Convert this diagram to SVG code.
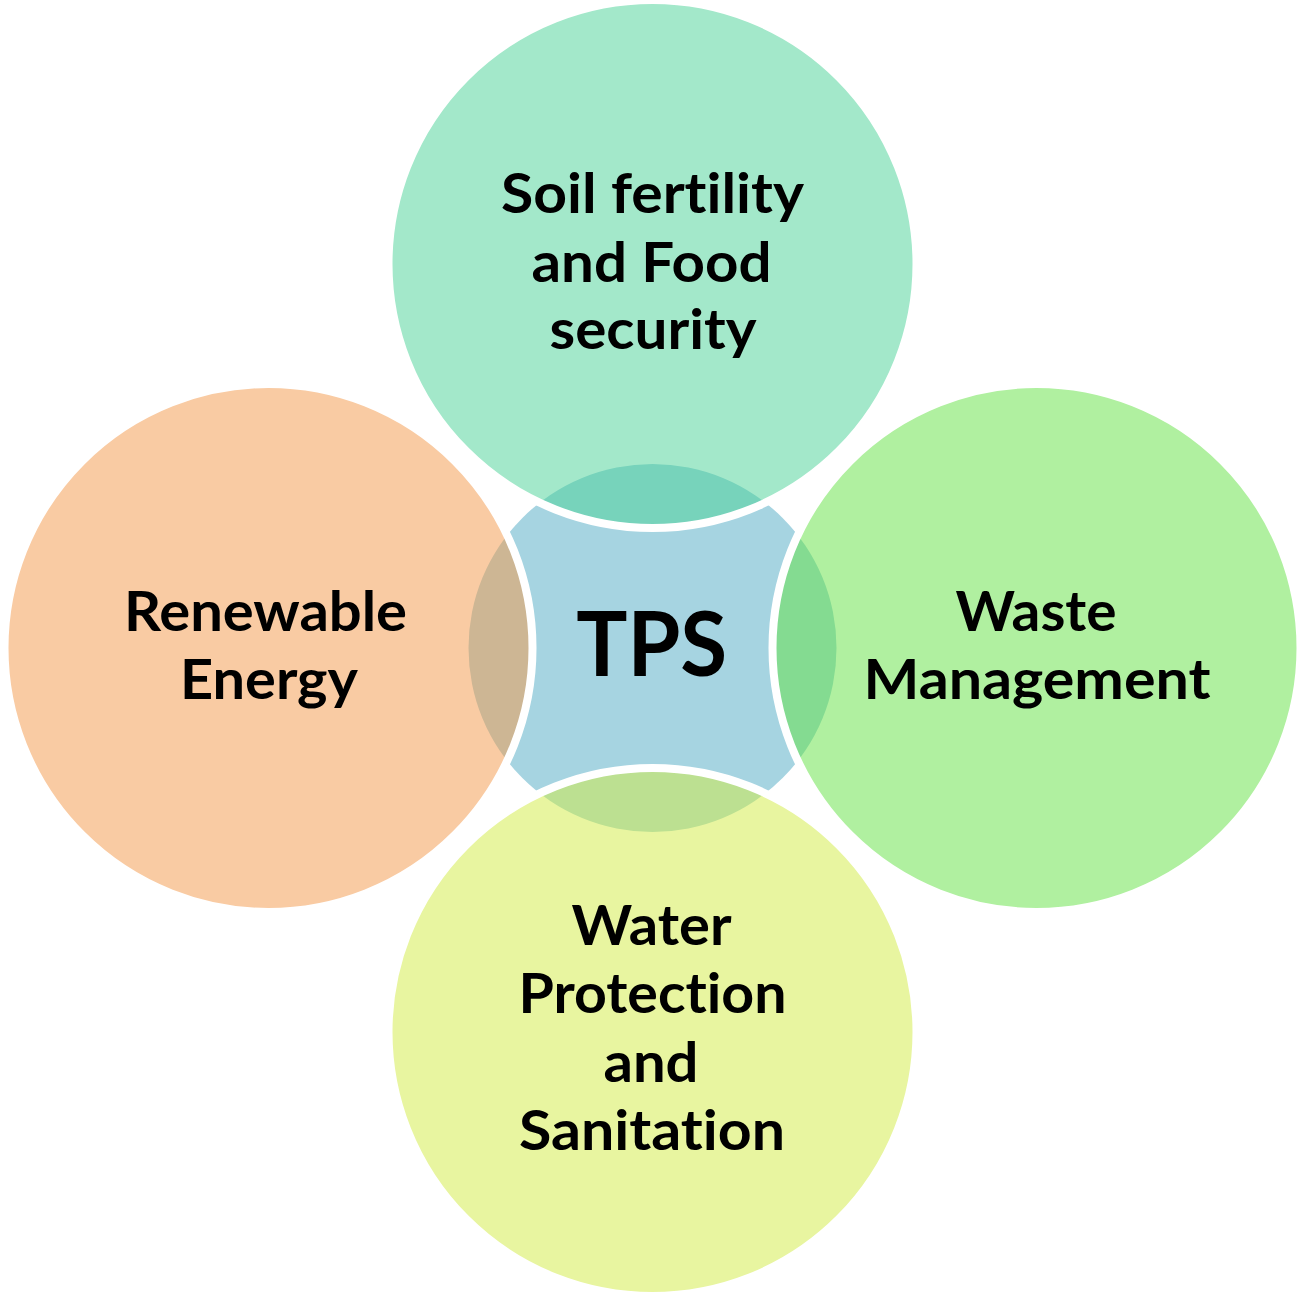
<svg xmlns="http://www.w3.org/2000/svg" width="1304" height="1315" viewBox="0 0 1304 1315">
<style>
.ring{stroke:#FFFFFF;stroke-width:8;fill-opacity:0.5}
.lbl,.hub{font-family:Lato,"Open Sans","Liberation Sans",sans-serif;font-weight:bold;fill:#000000;text-anchor:middle;font-variant-ligatures:none;font-feature-settings:"liga" 0,"clig" 0,"dlig" 0}
.lbl{font-size:56px}
.hub{font-size:89px}
</style>
<rect x="0" y="0" width="1304" height="1315" fill="#FFFFFF"/>
<g id="node-tps">
<circle cx="652.5" cy="648" r="184" fill="#A6D4E1"/>
</g>
<g id="node-soil">
<circle class="ring" cx="652.5" cy="264" r="264" fill="#47D195"/>
<text class="lbl" x="652.5" y="213" textLength="303" lengthAdjust="spacingAndGlyphs">Soil fertility</text>
<text class="lbl" x="651.5" y="281.5" textLength="240" lengthAdjust="spacingAndGlyphs">and Food</text>
<text class="lbl" x="653" y="348.5" textLength="207" lengthAdjust="spacingAndGlyphs">security</text>
</g>
<g id="node-renewable">
<circle class="ring" cx="268.5" cy="648" r="264" fill="#F39747"/>
<text class="lbl" x="265.5" y="631" textLength="283" lengthAdjust="spacingAndGlyphs">Renewable</text>
<text class="lbl" x="269" y="698.5" textLength="178" lengthAdjust="spacingAndGlyphs">Energy</text>
</g>
<g id="node-waste">
<circle class="ring" cx="1036.5" cy="648" r="264" fill="#61E141"/>
<text class="lbl" x="1036" y="631" textLength="161" lengthAdjust="spacingAndGlyphs">Waste</text>
<text class="lbl" x="1037" y="698.5" textLength="347" lengthAdjust="spacingAndGlyphs">Management</text>
</g>
<g id="node-water">
<circle class="ring" cx="652.5" cy="1032" r="264" fill="#D1EB41"/>
<text class="lbl" x="651.5" y="945" textLength="160" lengthAdjust="spacingAndGlyphs">Water</text>
<text class="lbl" x="652.5" y="1013" textLength="268" lengthAdjust="spacingAndGlyphs">Protection</text>
<text class="lbl" x="651" y="1081.5" textLength="95" lengthAdjust="spacingAndGlyphs">and</text>
<text class="lbl" x="652" y="1150" textLength="266" lengthAdjust="spacingAndGlyphs">Sanitation</text>
</g>
<g id="node-tps-label">
<text class="hub" x="651.7" y="676" textLength="151" lengthAdjust="spacingAndGlyphs">TPS</text>
</g>
</svg>
